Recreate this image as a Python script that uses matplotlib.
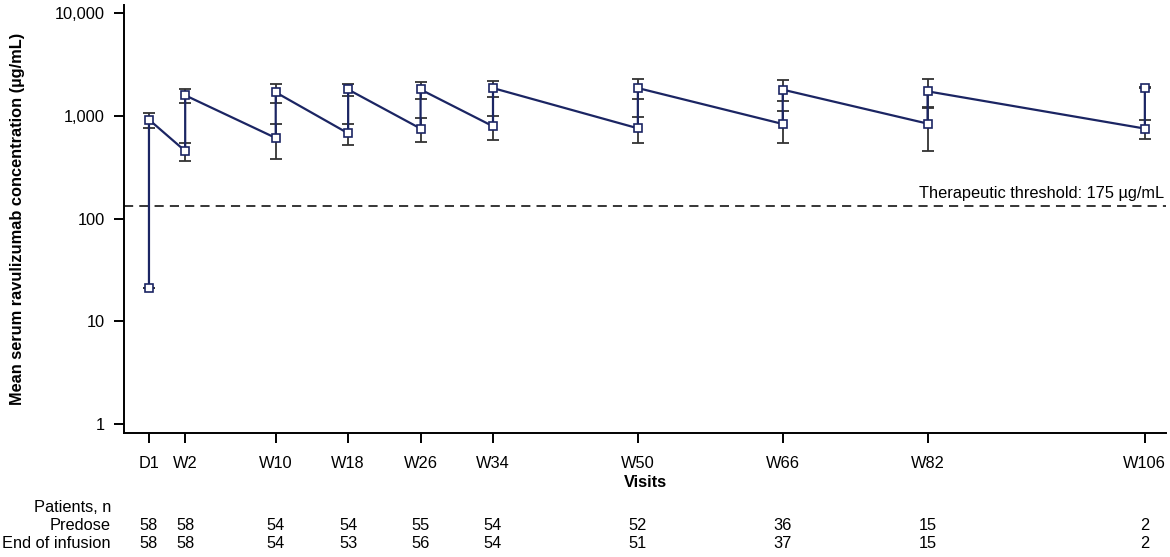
import matplotlib
matplotlib.use("Agg")
import matplotlib.pyplot as plt
from matplotlib import transforms
import numpy as np

plt.rcParams['font.family'] = ['Liberation Sans', 'DejaVu Sans']

# Visits and their positions on the axis (spacing as in the figure)
visits = ['D1', 'W2', 'W10', 'W18', 'W26', 'W34', 'W50', 'W66', 'W82', 'W106']
visit_pos = [-4, 0, 10, 18, 26, 34, 50, 66, 82, 106]

# Mean (SD) serum concentration, µg/mL
predose_mean = [21, 456, 611, 678, 754, 794, 759, 836, 843, 754]
predose_sd = [0, 88, 229, 154, 196, 208, 216, 286, 383, 155]
eoi_mean = [922, 1590, 1701, 1812, 1812, 1870, 1871, 1806, 1739, 1889]
eoi_sd = [155, 240, 368, 260, 340, 335, 419, 412, 536, 10]

# Patients, n
n_predose = [58, 58, 54, 54, 55, 54, 52, 36, 15, 2]
n_eoi = [58, 58, 54, 53, 56, 54, 51, 37, 15, 2]

threshold_drawn = 132
navy = '#1b2563'
fs = 11.8

fig = plt.figure(figsize=(11.7, 5.57), dpi=100)
ax = fig.add_axes([0.1062, 0.2221, 0.8901, 0.7689])

# error bars (mean +/- SD)
ax.errorbar(visit_pos, predose_mean, yerr=predose_sd, fmt='none',
            ecolor='#333333', elinewidth=1.3, capsize=4.5, capthick=1.3, zorder=2)
ax.errorbar(visit_pos, eoi_mean, yerr=eoi_sd, fmt='none',
            ecolor='#333333', elinewidth=1.3, capsize=4.5, capthick=1.3, zorder=2)

# connect trough -> peak -> next trough ...
line_x, line_y = [], []
for x, lo, hi in zip(visit_pos, predose_mean, eoi_mean):
    line_x += [x, x]
    line_y += [lo, hi]
ax.plot(line_x, line_y, color=navy, lw=1.6, zorder=3)
ax.plot(line_x, line_y, ls='none', marker='s', ms=5.5, mfc='white',
        mec=navy, mew=1.2, zorder=4)

# threshold
ax.axhline(threshold_drawn, color='black', lw=1.1, ls=(0, (6, 4)), zorder=1)
ax.text(108.1, 148, 'Therapeutic threshold: 175 µg/mL', ha='right', va='bottom',
        fontsize=fs)

ax.set_yscale('log')
ax.set_ylim(0.812, 12050)
ax.set_xlim(-6.73, 108.3)
ax.set_yticks([1, 10, 100, 1000, 10000])
ax.set_yticklabels(['1', '10', '100', '1,000', '10,000'])
ax.yaxis.set_minor_locator(matplotlib.ticker.NullLocator())
ax.set_xticks(visit_pos)
ax.set_xticklabels(visits)

for s in ['top', 'right']:
    ax.spines[s].set_visible(False)
for s in ['left', 'bottom']:
    ax.spines[s].set_linewidth(1.4)
ax.tick_params(axis='both', length=7, width=1.4, labelsize=fs)
ax.tick_params(axis='y', pad=7)
ax.tick_params(axis='x', pad=9)

ax.set_xlabel('Visits', fontsize=fs, fontweight='bold', labelpad=3)
ax.set_ylabel('Mean serum ravulizumab concentration (µg/mL)', fontsize=fs,
              fontweight='bold')
ax.yaxis.set_label_coords(-0.0954, 0.5)

# patients table below the axis
trans = transforms.blended_transform_factory(ax.transData, fig.transFigure)
row_y = [1 - 507 / 557, 1 - 525.5 / 557, 1 - 544 / 557]
fig.text(111 / 1170, row_y[0], 'Patients, n', ha='right', va='center', fontsize=fs)
fig.text(111 / 1170, row_y[1], 'Predose', ha='right', va='center', fontsize=fs)
fig.text(111 / 1170, row_y[2], 'End of infusion', ha='right', va='center', fontsize=fs)
for x, a, b in zip(visit_pos, n_predose, n_eoi):
    ax.text(x, row_y[1], str(a), transform=trans, ha='center', va='center', fontsize=fs)
    ax.text(x, row_y[2], str(b), transform=trans, ha='center', va='center', fontsize=fs)

fig.savefig('out.png', dpi=100)
